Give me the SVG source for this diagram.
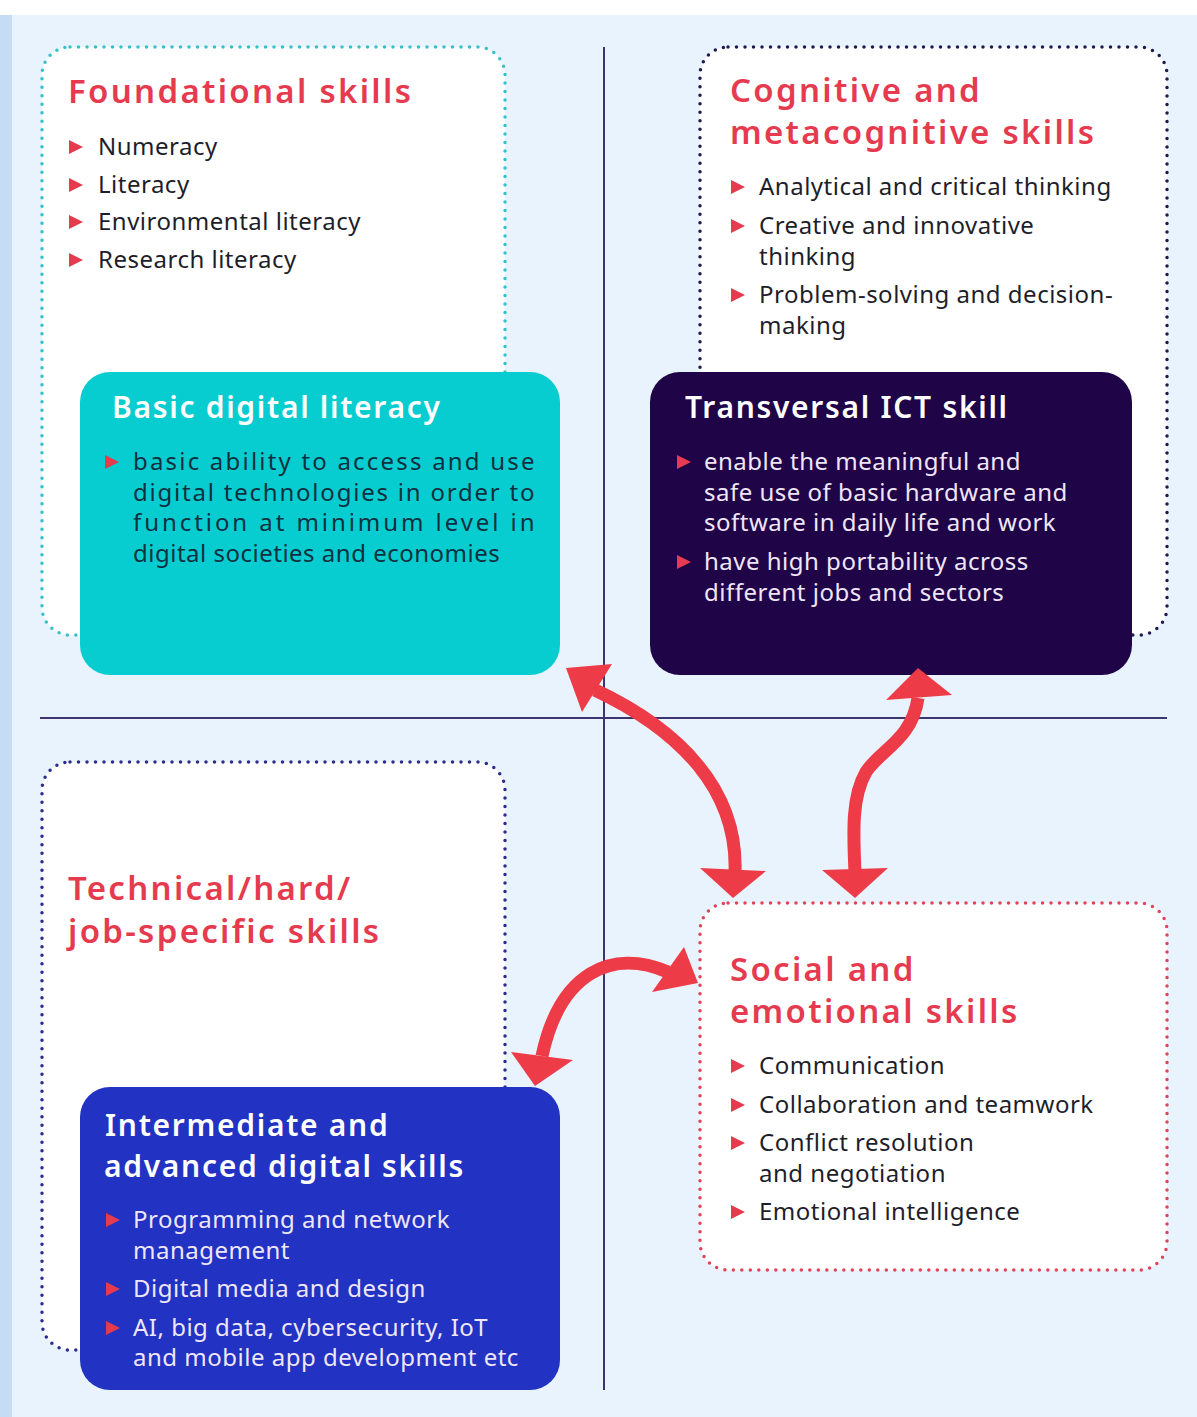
<svg xmlns="http://www.w3.org/2000/svg" width="1197" height="1417" viewBox="0 0 1197 1417">
<defs>
<style>
.title{font-family:"Noto Sans","Open Sans",sans-serif;font-weight:600;font-size:33px;letter-spacing:2.3px;fill:#e63a4e}
.wt{font-family:"Noto Sans","Open Sans",sans-serif;font-weight:600;font-size:30px;letter-spacing:1.7px;fill:#ffffff}
.body{font-family:"Noto Sans","Open Sans",sans-serif;font-size:24px;letter-spacing:0.5px;fill:#1e1e2a}
.lt{font-family:"Noto Sans","Open Sans",sans-serif;font-size:24px;letter-spacing:0.5px;fill:#efe6f8}
.dk{font-family:"Noto Sans","Open Sans",sans-serif;font-size:24px;letter-spacing:0.5px;fill:#10303f}
.tri{fill:#e63a4e}
.dot{fill:#ffffff;stroke-width:3.5;stroke-dasharray:0 8.5;stroke-linecap:round}
.arr{fill:none;stroke:#ee3b48;stroke-width:13}
.head{fill:#ee3b48}
</style>
</defs>
<rect x="0" y="0" width="1197" height="1417" fill="#ffffff"/>
<rect x="0" y="15" width="1197" height="1402" fill="#e9f3fd"/>
<rect x="0" y="15" width="12" height="1402" fill="#c5dcf5"/>

<g id="dividers">
<line x1="604" y1="47" x2="604" y2="1390" stroke="#3d3570" stroke-width="2"/>
<line x1="40" y1="718" x2="1167" y2="718" stroke="#3d3570" stroke-width="2"/>
</g>

<g id="foundational">
<rect class="dot" x="42" y="47" width="463" height="588" rx="28" stroke="#39c0c6"/>
<text class="title" x="68" y="103">Foundational skills</text>
<polygon class="tri" points="69,140 83,147 69,154"/>
<text class="body" x="98" y="155">Numeracy</text>
<polygon class="tri" points="69,178 83,185 69,192"/>
<text class="body" x="98" y="193">Literacy</text>
<polygon class="tri" points="69,215 83,222 69,229"/>
<text class="body" x="98" y="230">Environmental literacy</text>
<polygon class="tri" points="69,253 83,260 69,267"/>
<text class="body" x="98" y="268">Research literacy</text>
</g>

<g id="cognitive">
<rect class="dot" x="700" y="47" width="467" height="588" rx="28" stroke="#1f1b4d"/>
<text class="title"><tspan x="730" y="102">Cognitive and</tspan><tspan x="730" y="144">metacognitive skills</tspan></text>
<polygon class="tri" points="731,180 745,187 731,194"/>
<text class="body" x="759" y="195">Analytical and critical thinking</text>
<polygon class="tri" points="731,219 745,226 731,233"/>
<text class="body"><tspan x="759" y="234">Creative and innovative</tspan><tspan x="759" y="265">thinking</tspan></text>
<polygon class="tri" points="731,288 745,295 731,302"/>
<text class="body"><tspan x="759" y="303">Problem-solving and decision-</tspan><tspan x="759" y="334">making</tspan></text>
</g>

<g id="basic-digital">
<rect x="80" y="372" width="480" height="303" rx="30" fill="#07cdd1"/>
<text class="wt" x="112" y="418">Basic digital literacy</text>
<polygon class="tri" points="105,455 119,462 105,469"/>
<text class="dk" x="133" y="470" textLength="402" lengthAdjust="spacing">basic ability to access and use</text>
<text class="dk" x="133" y="501" textLength="402" lengthAdjust="spacing">digital technologies in order to</text>
<text class="dk" x="133" y="531" textLength="402" lengthAdjust="spacing">function at minimum level in</text>
<text class="dk" x="133" y="562">digital societies and economies</text>
</g>

<g id="transversal">
<rect x="650" y="372" width="482" height="303" rx="30" fill="#1f0448"/>
<text class="wt" x="685" y="418">Transversal ICT skill</text>
<polygon class="tri" points="677,455 691,462 677,469"/>
<text class="lt"><tspan x="704" y="470">enable the meaningful and</tspan><tspan x="704" y="501">safe use of basic hardware and</tspan><tspan x="704" y="531">software in daily life and work</tspan></text>
<polygon class="tri" points="677,555 691,562 677,569"/>
<text class="lt"><tspan x="704" y="570">have high portability across</tspan><tspan x="704" y="601">different jobs and sectors</tspan></text>
</g>

<g id="technical">
<rect class="dot" x="42" y="762" width="463" height="588" rx="28" stroke="#2d2b8c"/>
<text class="title"><tspan x="68" y="900">Technical/hard/</tspan><tspan x="68" y="943">job-specific skills</tspan></text>
</g>

<g id="intermediate">
<rect x="80" y="1087" width="480" height="303" rx="30" fill="#2232c2"/>
<text class="wt"><tspan x="105" y="1136">Intermediate and</tspan><tspan x="104" y="1177">advanced digital skills</tspan></text>
<polygon class="tri" points="106,1213 120,1220 106,1227"/>
<text class="lt"><tspan x="133" y="1228">Programming and network</tspan><tspan x="133" y="1259">management</tspan></text>
<polygon class="tri" points="106,1282 120,1289 106,1296"/>
<text class="lt" x="133" y="1297">Digital media and design</text>
<polygon class="tri" points="106,1321 120,1328 106,1335"/>
<text class="lt"><tspan x="133" y="1336">AI, big data, cybersecurity, IoT</tspan><tspan x="133" y="1366">and mobile app development etc</tspan></text>
</g>

<g id="social">
<rect class="dot" x="700" y="903" width="467" height="367" rx="28" stroke="#e2435a"/>
<text class="title"><tspan x="730" y="981">Social and</tspan><tspan x="730" y="1023">emotional skills</tspan></text>
<polygon class="tri" points="731,1059 745,1066 731,1073"/>
<text class="body" x="759" y="1074">Communication</text>
<polygon class="tri" points="731,1098 745,1105 731,1112"/>
<text class="body" x="759" y="1113">Collaboration and teamwork</text>
<polygon class="tri" points="731,1136 745,1143 731,1150"/>
<text class="body"><tspan x="759" y="1151">Conflict resolution</tspan><tspan x="759" y="1182">and negotiation</tspan></text>
<polygon class="tri" points="731,1205 745,1212 731,1219"/>
<text class="body" x="759" y="1220">Emotional intelligence</text>
</g>

<g id="connectors">
<path class="arr" d="M 595 690 C 680 730 738 790 735 872"/>
<polygon class="head" points="566,668 612,664 582,712"/>
<polygon class="head" points="733,898 700,868 766,871"/>
<path class="arr" d="M 918 698 C 912 740 880 750 866 772 C 852 796 853 830 855 872"/>
<polygon class="head" points="918,668 886,700 952,695"/>
<polygon class="head" points="855,898 822,870 888,868"/>
<path class="arr" d="M 668 972 C 612 948 560 972 542 1056"/>
<polygon class="head" points="698,983 684,947 652,992"/>
<polygon class="head" points="535,1086 511,1052 573,1060"/>
</g>
</svg>
